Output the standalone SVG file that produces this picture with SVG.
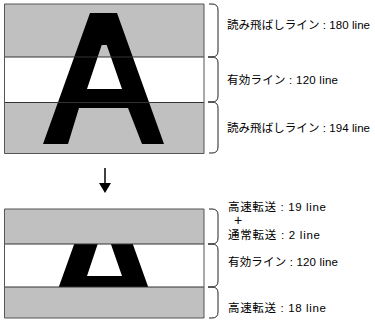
<svg xmlns="http://www.w3.org/2000/svg" width="375" height="322" viewBox="0 0 375 322">
<style>
.band{fill:#c0c0c0;stroke:none}
.edge{stroke:#555;stroke-width:1;fill:none}
.sep{stroke:#333;stroke-width:1;fill:none}
.brace{stroke:#222;stroke-width:1;fill:none}
.lbl{font-family:"Liberation Sans","Noto Sans CJK JP",sans-serif;font-size:11.5px;fill:#000}
</style>
<defs>
<path id="glyphA" fill="#000" fill-rule="evenodd" d="M90,13 L117,13 L164,144 L142,144 L128,108 L79,108 L68,144 L43,144 Z M101.7,45 L106.7,45 L122,89 L87,89 Z"/>
<clipPath id="clipBot"><rect x="4" y="244" width="201" height="43"/></clipPath>
</defs>
<g id="top-frame">
<rect class="band" x="4.5" y="4" width="199.5" height="53"/>
<rect x="4.5" y="57" width="199.5" height="45" fill="#fff"/>
<rect class="band" x="4.5" y="102" width="199.5" height="51.5"/>
<use href="#glyphA"/>
<line class="sep" x1="4.5" y1="57" x2="204" y2="57"/>
<line class="sep" x1="4.5" y1="102.5" x2="204" y2="102.5"/>
<line class="edge" x1="4.5" y1="4" x2="204" y2="4"/>
<line class="edge" x1="4.5" y1="153.5" x2="204" y2="153.5"/>
<line class="edge" x1="204" y1="4" x2="204" y2="153.5"/>
<line class="edge" x1="4.5" y1="4" x2="4.5" y2="153.5" stroke-width="1.5"/>
</g>
<g id="bottom-frame">
<rect class="band" x="4.5" y="209" width="199.5" height="35"/>
<rect x="4.5" y="244" width="199.5" height="43" fill="#fff"/>
<rect class="band" x="4.5" y="287" width="199.5" height="31"/>
<g clip-path="url(#clipBot)"><use href="#glyphA" transform="translate(0,187)"/></g>
<line class="sep" x1="4.5" y1="244" x2="204" y2="244"/>
<line class="sep" x1="4.5" y1="287" x2="204" y2="287"/>
<line class="edge" x1="4.5" y1="209" x2="204" y2="209"/>
<line class="edge" x1="4.5" y1="318" x2="204" y2="318"/>
<line class="edge" x1="204" y1="209" x2="204" y2="318"/>
<line class="edge" x1="4.5" y1="209" x2="4.5" y2="318" stroke-width="1.5"/>
</g>
<g id="connectors">
<line x1="105" y1="168" x2="105" y2="184" stroke="#000" stroke-width="1.5"/>
<polygon points="99,183 111,183 105,193" fill="#000"/>
<path class="brace" d="M209,4 H212 Q218,4 218,10 V51 Q218,57 212,57 H208"/>
<path class="brace" d="M208,57 H212 Q218,57 218,63 V96 Q218,102 212,102 H208"/>
<path class="brace" d="M208,102 H212 Q218,102 218,108 V147 Q218,153 212,153 H209"/>
<path class="brace" d="M209,209 H212 Q218,209 218,215 V238 Q218,244 212,244 H208"/>
<path class="brace" d="M208,244 H212 Q218,244 218,250 V281 Q218,287 212,287 H208"/>
<path class="brace" d="M208,287 H212 Q218,287 218,293 V312 Q218,318 212,318 H209"/>
</g>
<g id="labels">
<text class="lbl" x="227" y="29" textLength="143" lengthAdjust="spacing">読み飛ばしライン : 180 line</text>
<text class="lbl" x="227" y="84" textLength="111" lengthAdjust="spacing">有効ライン : 120 line</text>
<text class="lbl" x="227" y="132" textLength="143" lengthAdjust="spacing">読み飛ばしライン : 194 line</text>
<text class="lbl" x="228" y="211" textLength="98" lengthAdjust="spacing">高速転送 : 19 line</text>
<text class="lbl" x="238" y="225" text-anchor="middle" style="font-size:14px">+</text>
<text class="lbl" x="228" y="239" textLength="92" lengthAdjust="spacing">通常転送 : 2 line</text>
<text class="lbl" x="228" y="266" textLength="110" lengthAdjust="spacing">有効ライン : 120 line</text>
<text class="lbl" x="228" y="312" textLength="98" lengthAdjust="spacing">高速転送 : 18 line</text>
</g>
</svg>
